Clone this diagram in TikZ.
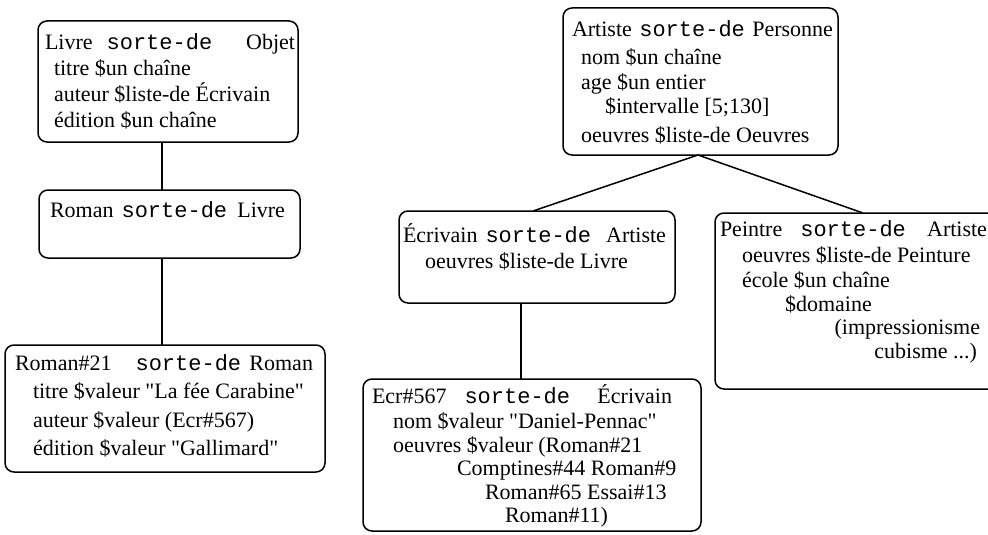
\documentclass[tikz,border=0pt]{standalone}
\usepackage{fontspec}
\setmainfont{Liberation Serif}
\setmonofont{Liberation Mono}
% same face without the TeX ligature mapping, so that " stays a straight quote
\newfontfamily\qfont{Liberation Serif}
\newcommand\qq{{\qfont"}}
% the frame keyword, set in typewriter type
\newcommand\sd{\texttt{sorte-de}}
\begin{document}
\begin{tikzpicture}[x=1pt,y=-1pt,
  box/.style={draw, line width=1.5pt, rounded corners=9pt, inner sep=0pt, outer sep=0pt},
  ln/.style={anchor=base west, inner sep=0pt, outer sep=0pt, font=\fontsize{22}{26}\selectfont},
  lnr/.style={ln, anchor=base east},
  link/.style={line width=1.5pt}]
\clip (0,0) rectangle (988,535);

% ---- frame boxes ----
\node[box, minimum width=260pt, minimum height=121pt] (livre)    at (168,81.5)  {};
\node[box, minimum width=261pt, minimum height=68pt]  (roman)    at (169.5,224) {};
\node[box, minimum width=320pt, minimum height=127pt] (roman21)  at (165,408.5) {};
\node[box, minimum width=275pt, minimum height=147pt] (artiste)  at (700.5,81.5) {};
\node[box, minimum width=276pt, minimum height=92pt]  (ecrivain) at (537,257)   {};
\node[box, minimum width=283pt, minimum height=176pt] (peintre)  at (856.5,301) {};
\node[box, minimum width=338pt, minimum height=152pt] (ecr567)   at (532,455)   {};

% ---- inheritance links ----
\draw[link] ([xshift=-6pt]livre.south) -- ([xshift=-6pt]livre.south |- roman.north);
\draw[link] ([xshift=-7.5pt]roman.south) -- ([xshift=-7.5pt]roman.south |- roman21.north);
\draw[link] ([xshift=-2.5pt]artiste.south) -- ([xshift=-4pt]ecrivain.north);
\draw[link] ([xshift=-2.5pt]artiste.south) -- ([xshift=6.5pt]peintre.north);
\draw[link] ([xshift=-16pt]ecrivain.south) -- ([xshift=-16pt]ecrivain.south |- ecr567.north);

% ---- Livre ----
\node[ln] (livre-h) at (45,50)  {\hbox to 250pt{Livre\hspace{14pt}\sd\hfill Objet}};
\node[ln] (livre-1) at (54,75)  {titre \$un chaîne};
\node[ln] (livre-2) at (54,101) {auteur \$liste-de Écrivain};
\node[ln] (livre-3) at (54,127) {édition \$un chaîne};

% ---- Roman ----
\node[ln] (roman-h) at (50,217) {\hbox to 235pt{Roman\hspace{8pt}\sd\hfill Livre}};

% ---- Roman#21 ----
\node[ln] (roman21-h) at (15,370) {\hbox to 298pt{Roman\#21\hspace{24pt}\sd\hfill Roman}};
\node[ln] (roman21-1) at (33,398) {titre \$valeur \qq La fée Carabine\qq};
\node[ln] (roman21-2) at (33,427) {auteur \$valeur (Ecr\#567)};
\node[ln] (roman21-3) at (33,455) {édition \$valeur \qq Gallimard\qq};

% ---- Artiste ----
\node[ln] (artiste-h) at (572,37)  {\hbox to 261pt{Artiste\hfill\sd\hfill Personne}};
\node[ln] (artiste-1) at (581,65)  {nom \$un chaîne};
\node[ln] (artiste-2) at (581,89)  {age \$un entier};
\node[ln] (artiste-3) at (605,113) {\$intervalle [5;130]};
\node[ln] (artiste-4) at (581,142) {oeuvres \$liste-de Oeuvres};

% ---- Écrivain ----
\node[ln] (ecrivain-h) at (403,242) {\hbox to 263pt{Écrivain\hspace{8pt}\sd\hfill Artiste}};
\node[ln] (ecrivain-1) at (425,268) {oeuvres \$liste-de Livre};

% ---- Peintre ----
\node[ln]  (peintre-h) at (720,236) {\hbox to 267pt{Peintre\hspace{18pt}\sd\hfill Artiste}};
\node[ln]  (peintre-1) at (742,262) {oeuvres \$liste-de Peinture};
\node[ln]  (peintre-2) at (742,287) {école \$un chaîne};
\node[ln]  (peintre-3) at (785,311) {\$domaine};
\node[lnr] (peintre-4) at (980,334) {(impressionisme};
\node[lnr] (peintre-5) at (977,358) {cubisme ...)};

% ---- Ecr#567 ----
\node[ln] (ecr567-h) at (372,403) {\hbox to 300pt{Ecr\#567\hspace{18pt}\sd\hfill Écrivain}};
\node[ln] (ecr567-1) at (393,428) {nom \$valeur \qq Daniel-Pennac\qq};
\node[ln] (ecr567-2) at (393,452) {oeuvres \$valeur (Roman\#21};
\node[ln] (ecr567-3) at (457,475) {Comptines\#44 Roman\#9};
\node[ln] (ecr567-4) at (485,499) {Roman\#65 Essai\#13};
\node[ln] (ecr567-5) at (505,522) {Roman\#11)};
\end{tikzpicture}
\end{document}
